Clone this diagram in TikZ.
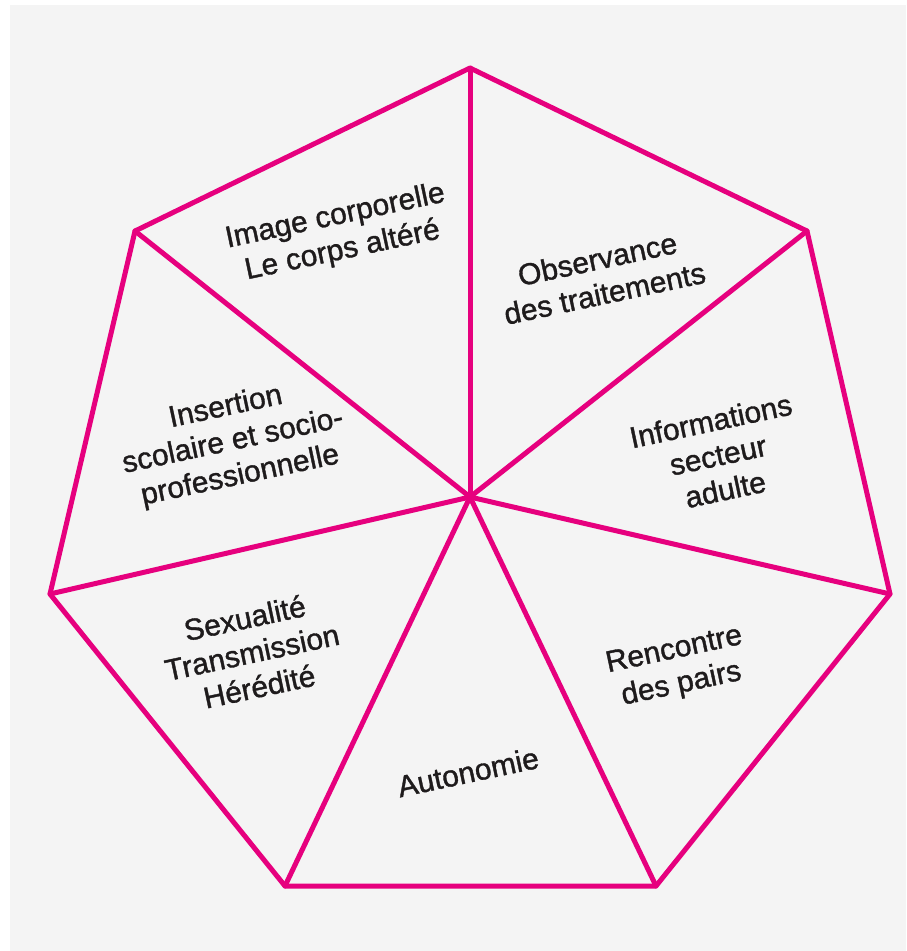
\documentclass[tikz,border=0pt]{standalone}
\usepackage{fontspec}
\newfontfamily\labfont[FakeBold=1.2]{Liberation Sans}
\definecolor{mag}{HTML}{E6007E}
\definecolor{bg}{HTML}{F4F4F4}
\definecolor{ink}{HTML}{1E1B1C}
\begin{document}
\begin{tikzpicture}[x=1pt,y=-1pt,
  edge/.style={draw=mag,line width=5pt,line join=round,line cap=round},
  lab/.style={text=ink,align=center,rotate=12,font=\labfont\fontsize{30}{35}\selectfont,inner sep=0pt}]
\useasboundingbox (0,0) rectangle (906,951);
\fill[white] (0,0) rectangle (906,951);
\fill[bg] (10,5) rectangle (906,951);
\coordinate (c) at (470,497);
\coordinate (v1) at (470,68);
\coordinate (v2) at (807,231);
\coordinate (v3) at (890,594);
\coordinate (v4) at (656,886);
\coordinate (v5) at (285,886);
\coordinate (v6) at (50,594);
\coordinate (v7) at (135,231);
\draw[edge] (v1) -- (v2) -- (v3) -- (v4) -- (v5) -- (v6) -- (v7) -- cycle;
\foreach \v in {v1,v2,v3,v4,v5,v6,v7} \draw[edge] (c) -- (\v);
\node[lab] (t1) at (339,234) {Image corporelle\\Le corps altéré};
\node[lab] (t2) at (601,276) {Observance\\des traitements};
\node[lab] (t3) at (233,442) {Insertion\\scolaire et socio-\\professionnelle};
\node[lab] (t4) at (718,455) {Informations\\secteur\\adulte};
\node[lab] (t5) at (252,652) {Sexualité\\Transmission\\Hérédité};
\node[lab] (t6) at (678,668) {Rencontre\\des pairs};
\node[lab] (t7) at (468,772) {Autonomie};
\end{tikzpicture}
\end{document}
